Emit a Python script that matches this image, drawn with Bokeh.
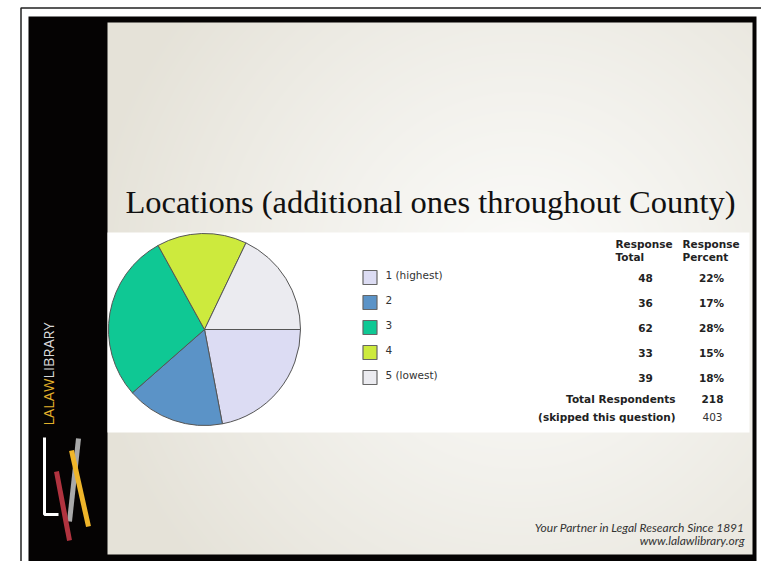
import numpy as np
from bokeh.plotting import figure
from bokeh.models import Range1d, ColumnDataSource
from bokeh.core.properties import value
from bokeh.embed import file_html
from bokeh.resources import INLINE

# ---------------- data ----------------
title_text = "Locations (additional ones throughout County)"
categories = ["1 (highest)", "2", "3", "4", "5 (lowest)"]
response_total = [48, 36, 62, 33, 39]
response_percent = ["22%", "17%", "28%", "15%", "18%"]
slice_colors = ["#dcdcf3", "#5b93c7", "#0fc894", "#cdea3d", "#ebebf0"]
header_total = ["Response", "Total"]
header_percent = ["Response", "Percent"]
summary_labels = ["Total Respondents", "(skipped this question)"]
summary_values = ["218", "403"]
footer_lines = ["Your Partner in Legal Research Since 1891", "www.lalawlibrary.org"]

# ---------------- figure (1 data unit = 1 pixel, y downwards) ----------------
FW, FH = 761, 561
p = figure(width=FW, height=FH, x_range=Range1d(0, FW), y_range=Range1d(FH, 0),
           output_backend="svg", toolbar_location=None, min_border=0,
           x_axis_location=None, y_axis_location=None)
p.grid.visible = False
p.outline_line_color = None
p.background_fill_color = "white"
p.border_fill_color = "white"

# outer thin frame line
p.line(x=[20.5, 20.5, 761], y=[561, 7.5, 7.5], line_color="#222222", line_width=1.5)

# black slide frame
p.quad(left=28, right=756, top=16, bottom=561, fill_color="#050303", line_color=None)

# slide gradient background
X0, X1, Y0, Y1 = 107, 752, 22, 554
W, H = X1 - X0, Y1 - Y0
gx, gy = np.meshgrid(np.arange(W) + X0 + 0.5, np.arange(H) + Y0 + 0.5)
d = np.sqrt((gx - 520) ** 2 + (gy - 280) ** 2)
t = np.clip(d / 440.0, 0, 1) ** 1.2
light = np.array([251, 251, 249])
dark = np.array([229, 226, 216])
img = np.empty((H, W), dtype=np.uint32)
view = img.view(dtype=np.uint8).reshape((H, W, 4))
for k in range(3):
    view[:, :, k] = (light[k] * (1 - t) + dark[k] * t).astype(np.uint8)
view[:, :, 3] = 255
p.image_rgba(image=[img], x=X0, y=Y0, dw=W, dh=H)

# title
p.text(x=[430], y=[201], text=[title_text], text_align="center", text_baseline="alphabetic",
       text_font=value("Liberation Serif"), text_font_size="32.5px", text_color="#111111")

# white panel
p.quad(left=107, right=749, top=232, bottom=432, fill_color="white", line_color=None)

# pie
total = sum(response_total)
cum = np.concatenate([[0], np.cumsum(response_total)]) / total * 2 * np.pi
pie_src = ColumnDataSource(dict(start=-cum[1:], end=-cum[:-1], color=slice_colors))
p.wedge(x=204, y=329, radius=96, radius_units="screen", start_angle="start", end_angle="end",
        fill_color="color", line_color="#555555", line_width=1, source=pie_src)

# legend + table rows
row_y = [277 + 25 * i for i in range(len(categories))]
leg_src = ColumnDataSource(dict(y=row_y, ly=[v - 3 for v in row_y], color=slice_colors,
                                label=categories,
                                tot=[str(v) for v in response_total], pct=response_percent))
p.rect(x=369.5, y="y", width=14, height=14, fill_color="color", line_color="#666666",
       line_width=1.2, source=leg_src)
p.text(x=385, y="ly", text="label", text_baseline="middle", text_align="left",
       text_font=value("DejaVu Sans"), text_font_size="10.5px", text_color="#333333", source=leg_src)
p.text(x=645, y="y", text="tot", text_baseline="middle", text_align="center",
       text_font=value("DejaVu Sans"), text_font_size="10.5px", text_font_style="bold",
       text_color="#222222", source=leg_src)
p.text(x=711, y="y", text="pct", text_baseline="middle", text_align="center",
       text_font=value("DejaVu Sans"), text_font_size="10.5px", text_font_style="bold",
       text_color="#222222", source=leg_src)

# headers
p.text(x=[615, 615], y=[243, 256], text=header_total, text_baseline="middle", text_align="left",
       text_font=value("DejaVu Sans"), text_font_size="10.5px", text_font_style="bold",
       text_color="#222222")
p.text(x=[682, 682], y=[243, 256], text=header_percent, text_baseline="middle", text_align="left",
       text_font=value("DejaVu Sans"), text_font_size="10.5px", text_font_style="bold",
       text_color="#222222")

# summary rows
p.text(x=[675, 675], y=[398, 416], text=summary_labels, text_baseline="middle", text_align="right",
       text_font=value("DejaVu Sans"), text_font_size="10.5px", text_font_style="bold",
       text_color="#222222")
p.text(x=[712], y=[398], text=[summary_values[0]], text_baseline="middle", text_align="center",
       text_font=value("DejaVu Sans"), text_font_size="10.5px", text_font_style="bold",
       text_color="#222222")
p.text(x=[712], y=[416], text=[summary_values[1]], text_baseline="middle", text_align="center",
       text_font=value("DejaVu Sans"), text_font_size="10.5px", text_color="#333333")

# footer
p.text(x=[744, 744], y=[527, 540], text=footer_lines, text_baseline="middle", text_align="right",
       text_font=value("Lato"), text_font_size="12px", text_font_style="italic",
       text_color="#333333")

# left brand text
p.text(x=[48], y=[425], text=["LALAW"], angle=np.pi / 2, text_align="left", text_baseline="middle",
       text_font=value("Open Sans"), text_font_size="14.5px", text_color="#e2b12b")
p.text(x=[48], y=[378], text=["LIBRARY"], angle=np.pi / 2, text_align="left", text_baseline="middle",
       text_font=value("Open Sans"), text_font_size="14.5px", text_color="#d8d8d8")

# logo
p.line(x=[44, 44, 58], y=[437, 514, 514], line_color="white", line_width=3)
p.line(x=[78, 69], y=[438, 521], line_color="#a9a9a9", line_width=5)
p.line(x=[56, 69], y=[471, 540], line_color="#b0333f", line_width=5)
p.line(x=[71, 88], y=[450, 526], line_color="#efb52a", line_width=5)

open("out.html", "w").write(file_html(p, INLINE))
